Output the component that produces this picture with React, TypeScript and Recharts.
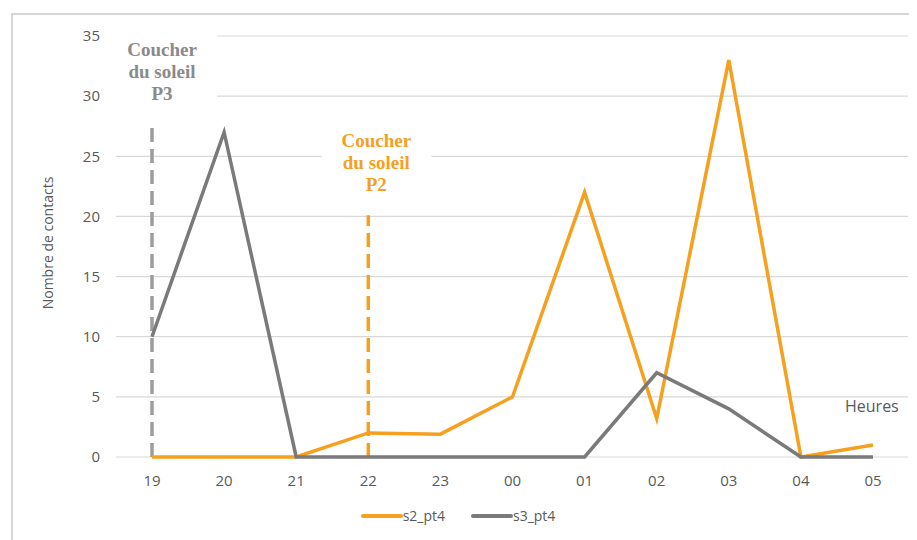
import {
  LineChart,
  Line,
  XAxis,
  YAxis,
  CartesianGrid,
  Legend,
  ReferenceLine,
} from "recharts";

const hours = ["19", "20", "21", "22", "23", "00", "01", "02", "03", "04", "05"];
const s2Values = [0, 0, 0, 2, 1.9, 5, 22, 3.2, 33, 0, 1];
const s3Values = [10, 27, 0, 0, 0, 0, 0, 7, 4, 0, 0];
const yTicks = [0, 5, 10, 15, 20, 25, 30, 35];

const ORANGE = "#F5A01E";
const GRAY = "#7A7A7A";
const DASH_GRAY = "#9C9C9C";
const TEXT = "#595959";
const SANS = "'Open Sans', 'Noto Sans', sans-serif";

const data = hours.map((h, i) => ({ hour: h, s2_pt4: s2Values[i], s3_pt4: s3Values[i] }));

// three-line bold serif label with a white box behind it, anchored at the top of the dashed line
const sunsetLabel = (lines: string[], color: string, dx: number) => (props: any) => {
  const vb = props.viewBox || {};
  const cx = (vb.x ?? 0) + dx;
  const top = vb.y ?? 0;
  return (
    <g>
      <rect x={cx - 55} y={top - 98} width={110} height={86} fill="#fff" />
      {lines.map((t, i) => (
        <text
          key={t}
          x={cx}
          y={top - 68 + i * 22}
          textAnchor="middle"
          fill={color}
          fontFamily="'Liberation Serif', 'DejaVu Serif', serif"
          fontWeight="bold"
          fontSize={19}
        >
          {t}
        </text>
      ))}
    </g>
  );
};

const renderLegend = (props: any) => {
  const items = props.payload || [];
  return (
    <div style={{ display: "flex", justifyContent: "center", gap: 26, fontFamily: SANS, fontSize: 14, color: TEXT }}>
      {items.map((it: any) => (
        <div key={it.value} style={{ display: "flex", alignItems: "center" }}>
          <span style={{ display: "inline-block", width: 42, height: 4, background: it.color, borderRadius: 2 }} />
          <span>{it.value}</span>
        </div>
      ))}
    </div>
  );
};

export default function App() {
  return (
    <div style={{ position: "relative", width: 909, height: 532, background: "#fff" }}>
      <div
        style={{
          position: "absolute",
          left: 3,
          top: 5,
          width: 906,
          height: 527,
          borderLeft: "2px solid #d6d6d6",
          borderTop: "2px solid #d6d6d6",
        }}
      />
      <LineChart width={909} height={532} data={data} margin={{ top: 28, right: 9, left: 0, bottom: 14 }}>
        <CartesianGrid vertical={false} stroke="#d9d9d9" strokeWidth={1.2} />
        <XAxis
          dataKey="hour"
          axisLine={false}
          tickLine={false}
          tickSize={0}
          tickMargin={18}
          height={49}
          padding={{ left: 36, right: 35 }}
          tick={{ fill: TEXT, fontSize: 15, fontFamily: SANS }}
        />
        <YAxis
          domain={[0, 35]}
          ticks={yTicks}
          width={108}
          axisLine={false}
          tickLine={false}
          tickSize={0}
          tickMargin={16}
          tick={{ fill: TEXT, fontSize: 15, fontFamily: SANS }}
        />
        <Legend verticalAlign="bottom" height={20} content={renderLegend} />
        <ReferenceLine
          segment={[
            { x: "19", y: 0 },
            { x: "19", y: 27.7 },
          ]}
          stroke={DASH_GRAY}
          strokeWidth={3.5}
          strokeDasharray="14 7"
          label={sunsetLabel(["Coucher", "du soleil", "P3"], "#8a8a8a", 10)}
        />
        <ReferenceLine
          segment={[
            { x: "22", y: 0 },
            { x: "22", y: 20.1 },
          ]}
          stroke={ORANGE}
          strokeWidth={3.5}
          strokeDasharray="14 7"
          label={sunsetLabel(["Coucher", "du soleil", "P2"], ORANGE, 8)}
        />
        <Line
          type="linear"
          dataKey="s2_pt4"
          stroke={ORANGE}
          strokeWidth={3.5}
          dot={false}
          isAnimationActive={false}
        />
        <Line
          type="linear"
          dataKey="s3_pt4"
          stroke={GRAY}
          strokeWidth={3.5}
          dot={false}
          isAnimationActive={false}
        />
      </LineChart>
      <div
        style={{
          position: "absolute",
          left: 39,
          top: 235,
          transform: "translate(-50%, -50%) rotate(-90deg)",
          whiteSpace: "nowrap",
          fontFamily: SANS,
          fontSize: 14,
          color: TEXT,
        }}
      >
        Nombre de contacts
      </div>
      <div
        style={{
          position: "absolute",
          left: 837,
          top: 387,
          fontFamily: SANS,
          fontSize: 16,
          color: TEXT,
        }}
      >
        Heures
      </div>
    </div>
  );
}
